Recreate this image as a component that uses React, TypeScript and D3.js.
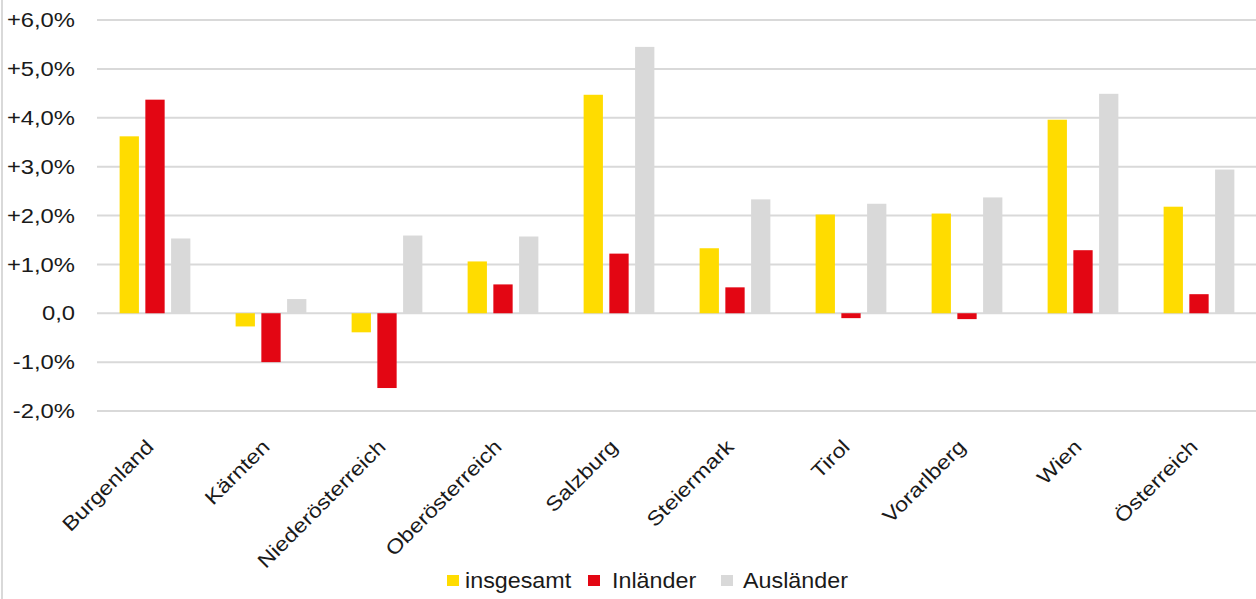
import React from "react";
import * as d3 from "d3";

const categories = ["Burgenland", "Kärnten", "Niederösterreich", "Oberösterreich", "Salzburg", "Steiermark", "Tirol", "Vorarlberg", "Wien", "Österreich"];
const seriesNames = ["insgesamt", "Inländer", "Ausländer"];
const insgesamt = [3.62, -0.27, -0.39, 1.06, 4.47, 1.33, 2.02, 2.04, 3.96, 2.18];
const inlaender = [4.37, -1.0, -1.53, 0.59, 1.22, 0.53, -0.1, -0.12, 1.29, 0.39];
const auslaender = [1.53, 0.29, 1.59, 1.57, 5.45, 2.33, 2.24, 2.37, 4.49, 2.94];
const yTicks = [-2, -1, 0, 1, 2, 3, 4, 5, 6];
const colors = ["#FFDC00", "#E30613", "#D9D9D9"];

const W = 1256;
const H = 599;

function fmt(v: number) {
  if (v === 0) return "0,0";
  const s = Math.abs(v).toFixed(1).replace(".", ",") + "%";
  return (v > 0 ? "+" : "-") + s;
}

export default function App() {
  const values = [insgesamt, inlaender, auslaender];
  const x = d3.scaleBand<string>().domain(categories).range([97, 1257]).paddingInner(0.39).paddingOuter(0.195);
  const xs = d3.scaleBand<string>().domain(seriesNames).range([0, x.bandwidth()]).paddingInner(0.25);
  const y = d3.scaleLinear().domain([-2, 6]).range([411, 20]);
  const font = "'Liberation Sans', Arial, sans-serif";
  const legendPos = [
    { sq: 447, tx: 465 },
    { sq: 588, tx: 612 },
    { sq: 721, tx: 743 },
  ];
  return (
    <svg width={W} height={H} style={{ position: "absolute", left: 0, top: 0, background: "#fff" }} fontFamily={font}>
      <line x1={2} x2={2} y1={0} y2={H} stroke="#D9D9D9" strokeWidth={2} />
      {yTicks.map((t) => (
        <g key={t}>
          <line x1={97} x2={W} y1={y(t)} y2={y(t)} stroke="#D9D9D9" strokeWidth={2} />
          <text transform={`translate(75,${y(t)}) scale(1.19,1)`} dy="0.36em" textAnchor="end" fontSize={20} fill="#1a1a1a">{fmt(t)}</text>
        </g>
      ))}
      {categories.map((c, i) => (
        <g key={c} transform={`translate(${x(c)},0)`}>
          {seriesNames.map((s, j) => {
            const v = values[j][i];
            const y0 = y(0);
            const yv = y(v);
            return (
              <rect key={s} x={xs(s)} width={xs.bandwidth()} y={Math.min(y0, yv)} height={Math.abs(yv - y0)} fill={colors[j]} />
            );
          })}
        </g>
      ))}
      {categories.map((c) => {
        const cx = (x(c) as number) + x.bandwidth() / 2;
        return (
          <text key={c} transform={`translate(${cx},448) rotate(-45) scale(1.17,1)`} textAnchor="end" fontSize={20} fill="#1a1a1a">{c}</text>
        );
      })}
      {seriesNames.map((s, j) => (
        <g key={s}>
          <rect x={legendPos[j].sq} y={575} width={12} height={11} fill={colors[j]} />
          <text transform={`translate(${legendPos[j].tx},588) scale(1.06,1)`} fontSize={22} fill="#1a1a1a">{s}</text>
        </g>
      ))}
    </svg>
  );
}
